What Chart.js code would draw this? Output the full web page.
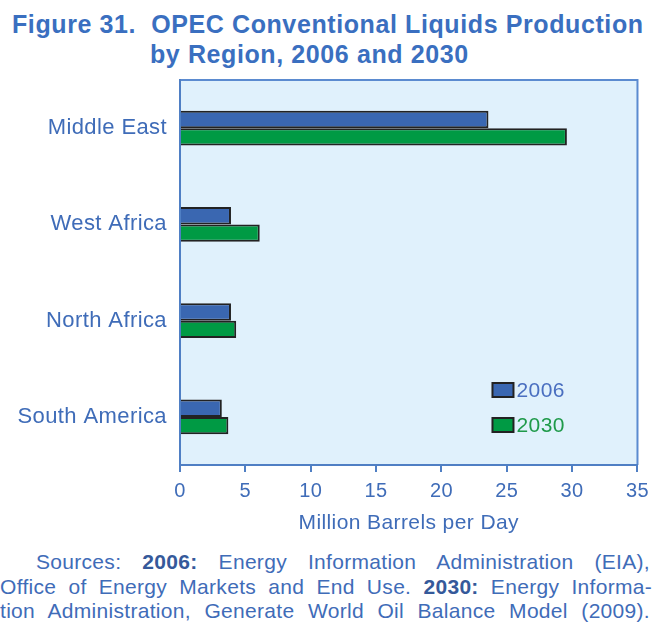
<!DOCTYPE html>
<html>
<head>
<meta charset="utf-8">
<script src="https://cdn.jsdelivr.net/npm/chart.js@4"></script>
<style>
  body { margin: 0; background: #fff; width: 656px; height: 632px; position: relative; overflow: hidden;
         font-family: "Liberation Sans", Arial, sans-serif; }
  #chart-wrap { position: absolute; left: 0; top: 0; width: 656px; height: 540px; }
  .title { position: absolute; font-weight: bold; font-size: 25px; color: #3a6fc0; letter-spacing: 0.6px; white-space: pre; line-height: 30px; }
  .src { position: absolute; left: 0; width: 652px; font-size: 21px; color: #3f6cb8; line-height: 24px;
         letter-spacing: 0.3px; text-align: justify; text-align-last: justify; white-space: nowrap; }
  .src b { color: #35599a; }
</style>
</head>
<body>
<div class="title" style="left:12px; top:9px;">Figure 31.  OPEC Conventional Liquids Production</div>
<div class="title" style="left:150px; top:39px;">by Region, 2006 and 2030</div>
<div id="chart-wrap"><canvas id="myChart"></canvas></div>
<div class="src" style="top:550px; left:36px; width:614px; white-space:normal;">Sources: <b>2006:</b> Energy Information Administration (EIA),</div>
<div class="src" style="top:575px; white-space:normal;">Office of Energy Markets and End Use. <b>2030:</b> Energy Informa-</div>
<div class="src" style="top:599px; width:650px; white-space:normal;">tion Administration, Generate World Oil Balance Model (2009).</div>
<script>
const regions = ["Middle East", "West Africa", "North Africa", "South America"];
const prod2006 = [23.6, 3.9, 3.9, 3.2];
const prod2030 = [29.6, 6.1, 4.3, 3.7];
const xTicks = [0, 5, 10, 15, 20, 25, 30, 35];

const axisBlue = "#4f7fc4";
const textBlue = "#3f6cb8";
const fontFamily = "'Liberation Sans', Arial, sans-serif";

// slightly spaced-out lettering for all canvas text
const spacing = {
  id: "spacing",
  beforeUpdate(chart) { chart.ctx.letterSpacing = "0.4px"; },
  beforeRender(chart) { chart.ctx.letterSpacing = "0.4px"; },
};

// light blue plot panel with a thin frame on top and right
const panel = {
  id: "panel",
  beforeDraw(chart) {
    const { ctx, chartArea: a } = chart;
    ctx.save();
    ctx.fillStyle = "#e0f1fc";
    ctx.fillRect(a.left, a.top, a.right - a.left, a.bottom - a.top);
    ctx.strokeStyle = "#5b8bd0";
    ctx.lineWidth = 2;
    ctx.beginPath();
    ctx.moveTo(a.left, a.top);
    ctx.lineTo(a.right, a.top);
    ctx.lineTo(a.right, a.bottom);
    ctx.stroke();
    ctx.restore();
  }
};

// legend drawn inside the plot, text coloured like the series
const insideLegend = {
  id: "insideLegend",
  afterDatasetsDraw(chart) {
    const { ctx, chartArea: a } = chart;
    const x = a.right - 145;
    const rows = [a.bottom - 75, a.bottom - 40];
    ctx.save();
    ctx.font = "21px " + fontFamily;
    ctx.textBaseline = "middle";
    chart.data.datasets.forEach((ds, i) => {
      const y = rows[i];
      ctx.fillStyle = ds.backgroundColor;
      ctx.fillRect(x, y - 7, 21, 14);
      ctx.strokeStyle = "#222";
      ctx.lineWidth = 2;
      ctx.strokeRect(x, y - 7, 21, 14);
      ctx.fillStyle = ds.legendText;
      ctx.fillText(ds.label, x + 24, y + 1);
    });
    ctx.restore();
  }
};

const config = {
  type: "bar",
  data: {
    labels: regions,
    datasets: [
      {
        label: "2006",
        data: prod2006,
        backgroundColor: "#3a67b1",
        legendText: "#4a6fc0",
        borderColor: "#222",
        borderWidth: 2,
      },
      {
        label: "2030",
        data: prod2030,
        backgroundColor: "#009a44",
        legendText: "#1f9a4a",
        borderColor: "#222",
        borderWidth: 2,
      },
    ],
  },
  options: {
    indexAxis: "y",
    responsive: true,
    maintainAspectRatio: false,
    animation: false,
    datasets: {
      bar: { categoryPercentage: 0.36, barPercentage: 1 },
    },
    layout: { padding: { top: 80, right: 16, left: 0, bottom: 0 } },
    scales: {
      x: {
        min: 0,
        max: 35,
        afterBuildTicks(scale) {
          scale.ticks = xTicks.map(v => ({ value: v }));
        },
        afterFit(scale) { scale.height = 75; },
        grid: { drawOnChartArea: false, color: axisBlue, lineWidth: 2, tickLength: 7 },
        border: { color: axisBlue, width: 2 },
        ticks: {
          color: textBlue,
          padding: 7,
          font: { family: fontFamily, size: 20 },
        },
        title: {
          display: true,
          text: "Million Barrels per Day",
          color: textBlue,
          font: { family: fontFamily, size: 21 },
          padding: { top: 0, bottom: 4 },
        },
      },
      y: {
        afterFit(scale) { scale.width = 180; },
        grid: { drawOnChartArea: false, drawTicks: false },
        border: { color: axisBlue, width: 2 },
        ticks: {
          color: textBlue,
          padding: 13,
          font: { family: fontFamily, size: 22 },
        },
      },
    },
    plugins: {
      legend: { display: false },
      tooltip: { enabled: false },
    },
  },
  plugins: [spacing, panel, insideLegend],
};

const myChart = new Chart(document.getElementById("myChart"), config);
</script>
</body>
</html>
